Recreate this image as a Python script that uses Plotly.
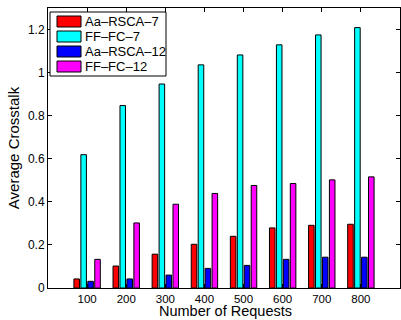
import plotly.graph_objects as go

requests = [100, 200, 300, 400, 500, 600, 700, 800]
aa_rsca_7 = [0.042, 0.102, 0.157, 0.203, 0.240, 0.279, 0.291, 0.296]
ff_fc_7 = [0.619, 0.847, 0.947, 1.036, 1.082, 1.129, 1.175, 1.209]
aa_rsca_12 = [0.031, 0.042, 0.060, 0.091, 0.105, 0.133, 0.143, 0.143]
ff_fc_12 = [0.133, 0.302, 0.389, 0.439, 0.476, 0.485, 0.502, 0.516]

series_names = ["Aa–RSCA–7", "FF–FC–7", "Aa–RSCA–12", "FF–FC–12"]
series_values = [aa_rsca_7, ff_fc_7, aa_rsca_12, ff_fc_12]
series_colors = ["#FF0000", "#00FFFF", "#0000FF", "#FF00FF"]

W, H = 401, 320
ML, MR, MT, MB = 48, 1, 8, 32
PW, PH = W - ML - MR, H - MT - MB


def px(x):
    return (x - ML) / PW


def py(y):
    return (H - MB - y) / PH


fig = go.Figure()
for name, vals, col in zip(series_names, series_values, series_colors):
    fig.add_trace(go.Bar(x=requests, y=vals, name=name, showlegend=False,
                         marker=dict(color=col, line=dict(color="black", width=1))))

font = "Liberation Sans, Arial, sans-serif"

# manual legend (compact, MATLAB-style)
shapes = [dict(type="rect", xref="paper", yref="paper", x0=px(50), x1=px(166),
               y0=py(76), y1=py(12), fillcolor="white",
               line=dict(color="black", width=1), layer="above")]
annotations = []
for i, (name, col) in enumerate(zip(series_names, series_colors)):
    cy = 21.5 + 15 * i
    shapes.append(dict(type="rect", xref="paper", yref="paper", x0=px(57), x1=px(81),
                       y0=py(cy + 5.5), y1=py(cy - 5.5), fillcolor=col,
                       line=dict(color="black", width=1), layer="above"))
    annotations.append(dict(xref="paper", yref="paper", x=px(83), y=py(cy),
                            xanchor="left", yanchor="middle", text=name,
                            showarrow=False, font=dict(size=13, family=font)))

# x-axis title placed as annotation at the bottom edge
annotations.append(dict(xref="paper", yref="paper", x=px(225), y=py(320),
                        xanchor="center", yanchor="bottom", text="Number of Requests",
                        showarrow=False, borderpad=0,
                        font=dict(size=14.5, family=font)))

fig.update_layout(
    width=W, height=H,
    margin=dict(l=ML, r=MR, t=MT, b=MB),
    paper_bgcolor="white", plot_bgcolor="white",
    barmode="group", bargap=0.29, bargroupgap=0.2,
    font=dict(family=font, size=12, color="black"),
    shapes=shapes, annotations=annotations,
    xaxis=dict(range=[0, 900], tickvals=requests, ticktext=[str(r) for r in requests],
               ticks="inside", ticklen=4, tickcolor="black", showline=True,
               linecolor="black", linewidth=1, mirror="ticks", showgrid=False,
               zeroline=False, tickfont=dict(size=11.5)),
    yaxis=dict(range=[0, 1.3], tickvals=[0, 0.2, 0.4, 0.6, 0.8, 1, 1.2],
               ticktext=["0", "0.2", "0.4", "0.6", "0.8", "1", "1.2"],
               ticks="inside", ticklen=4, tickcolor="black", showline=True,
               linecolor="black", linewidth=1, mirror="ticks", showgrid=False,
               zeroline=False, tickfont=dict(size=12),
               title=dict(text="Average Crosstalk", font=dict(size=15), standoff=4)),
)

fig.write_html("out.html")
